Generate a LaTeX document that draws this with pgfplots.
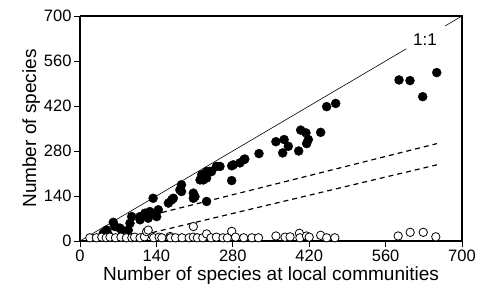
\documentclass[border=0pt]{standalone}
\usepackage{pgfplots}
\pgfplotsset{compat=1.18}
\usepackage{fontspec}
\setmainfont{Liberation Sans}
\begin{document}
\begin{tikzpicture}
\useasboundingbox (-80bp,-46bp) rectangle (398bp,241bp);
\begin{axis}[
  at={(0,0)}, anchor=south west,
  scale only axis,
  width=382bp, height=225bp,
  xmin=0, xmax=700, ymin=0, ymax=700,
  xtick={0,140,280,420,560,700},
  ytick={0,140,280,420,560,700},
  tick align=outside,
  major tick length=6bp,
  axis line style={line width=1.1pt},
  tick style={line width=0.9pt, black},
  axis x line*=bottom, axis y line*=left,
  every outer x axis line/.append style={-},
  every outer y axis line/.append style={-},
  /pgf/number format/assume math mode=true,
  ticklabel style={font=\fontsize{16.5bp}{18bp}\selectfont},
  xticklabel style={yshift=1bp},
  yticklabel style={xshift=1bp},
  label style={font=\fontsize{19bp}{21bp}\selectfont},
  xlabel={Number of species at local communities},
  ylabel={Number of species},
  xlabel style={yshift=-1bp, inner sep=1bp},
  ylabel style={yshift=-3bp},
  clip=false,
]
% frame top and right
\draw[line width=1.1pt] (axis cs:0,700) -- (axis cs:700,700) -- (axis cs:700,0);
% 1:1 line
\addplot[black, line width=0.6pt] coordinates {(0,0) (598,598)};
\addplot[black, line width=0.6pt] coordinates {(669,669) (700,700)};
\node[font=\fontsize{17bp}{19bp}\selectfont] at (axis cs:632,625) {1:1};
% dashed lines
\addplot[black, line width=1.2pt, dash pattern=on 5bp off 4bp] coordinates {(118,75) (654,303)};
\addplot[black, line width=1.2pt, dash pattern=on 5bp off 4bp] coordinates {(100,13) (654,237)};
% filled points
\addplot[only marks, mark=*, mark size=4.5bp, mark options={fill=black, draw=black}] coordinates {
(42.7,24)(46,29)(49,34)(52,19)(61,58)(64,45)(73,40)(76,34)(88.5,34)(91.6,55)
(94.7,76)(110,66)(110,76)(119,86.5)(125,71)(128,91.6)(131,86.5)(134,133)(140.5,76)(143.5,97)
(162,118)(168,128)(171,133)(183,159)(186,175)(186,154)(207.7,149)(207.7,133)(210.7,138)(220,190)
(223,206)(226,190)(232,123)(232,196)(232,216)(238,216.6)(241,216)(250,232)(256.5,232)(278,234)
(278,188)(281,237)(293,243)(300.5,253)(302,255)(328,272)(359,309)(371.4,274)(374,315.6)(381.7,294.7)
(400.7,280)(404.4,345)(414,336.5)(418.4,315.6)(415.4,303)(441,338)(452,418)(468.6,428)
(584.6,501)(604.7,499)(628,449)(653.7,524)
};
% open points
\addplot[only marks, mark=*, mark size=4.2bp, mark options={fill=white, draw=black, line width=0.8pt}] coordinates {
(18,10)(30,10)(40,12)(48,10)(55,12)(65,10)(75,12)(85,10)(95,10)(100,12)
(110,10)(118,13)(122,29)(125,34)(135,10)(145,12)(150,10)(165,14)(166,10)(175,10)
(187,10)(200,10)(207.7,45)(207.7,12)(215,10)(225,10)(232,22)(240,10)(250,12)(262,10)
(270,10)(278,30)(285,12)(300,10)(315,10)(327,10)(359,15.6)(375.7,12)(385,13)(402,24)
(403,10)(415,15.6)(420,12)(441,17.7)(452,10)(467,10)(583,15.6)(605,27)(629,27)(652,13)
};
\end{axis}
\end{tikzpicture}
\end{document}
